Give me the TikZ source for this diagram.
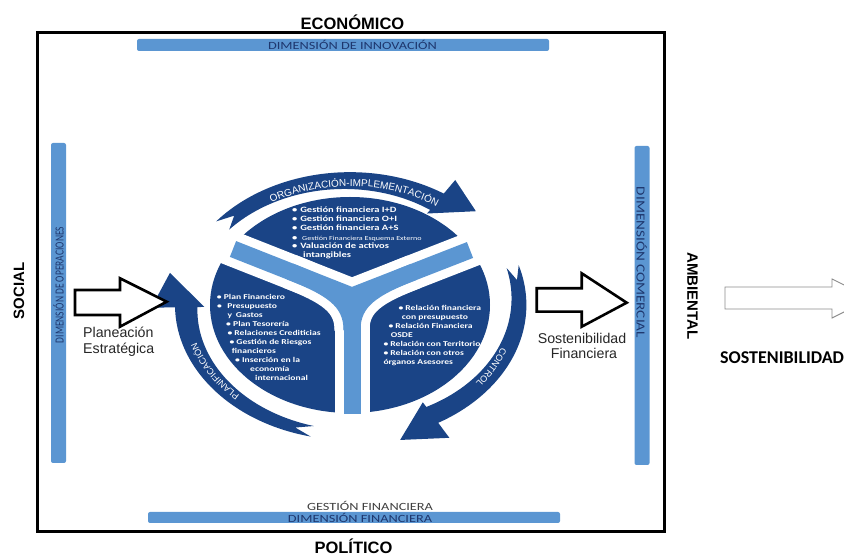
\documentclass[tikz,border=0pt]{standalone}
\usepackage{fontspec}
\usepackage{graphicx}
\setmainfont{Liberation Sans}
\newfontfamily\calfont{Carlito}
\usetikzlibrary{decorations.text,calc}

\definecolor{navyfill}{RGB}{26,68,134}
\definecolor{barblue}{RGB}{91,150,210}
\definecolor{barlabel}{RGB}{30,55,110}
\definecolor{labelgray}{RGB}{64,64,64}

% horizontal / vertical widening of text
\newcommand{\wide}[1]{\scalebox{1.3}[1]{#1}}
\newcommand{\tall}[1]{\scalebox{1}[1.3]{#1}}

% centre and radii of the three-sector disc
\def\cx{350}\def\cy{252}\def\rx{140}\def\ry{108}

% curved band arrow around the disc, running clockwise
% #1 tail angle  #2 head base angle  #3 tip angle
% #4 outer k  #5 inner k at head  #6 inner k at tail
% #7 inner barb k  #8 outer barb k  #9 tip k
\newcommand{\ringarrow}[9]{%
  \fill[navyfill]
    plot[domain=#1:#2,samples=60] ({\cx+#4*\rx*cos(\x)},{\cy+#4*\ry*sin(\x)})
    -- ({\cx+#8*\rx*cos(#2)},{\cy+#8*\ry*sin(#2)})
    -- ({\cx+#9*\rx*cos(#3)},{\cy+#9*\ry*sin(#3)})
    -- ({\cx+#7*\rx*cos(#2)},{\cy+#7*\ry*sin(#2)})
    -- plot[domain=#2:#1,samples=60]
       ({\cx+(#5+(#6-#5)*(\x-(#2))/((#1)-(#2)))*\rx*cos(\x)},
        {\cy+(#5+(#6-#5)*(\x-(#2))/((#1)-(#2)))*\ry*sin(\x)})
    -- ({\cx+(#4+#6)/2*\rx*cos(#1-6)},{\cy+(#4+#6)/2*\ry*sin(#1-6)})
    -- cycle;}

\tikzset{
  x=1pt,y=1pt,
  frame/.style={draw=black,line width=3pt},
  bar/.style={fill=barblue,rounded corners=2pt},
  barlbl/.style={text=barlabel,inner sep=0pt,font=\calfont\fontsize{11}{12}\selectfont},
  sidelbl/.style={text=barlabel,inner sep=0pt,font=\calfont\fontsize{9.5}{10}\selectfont},
  outerlbl/.style={inner sep=0pt,font=\bfseries\fontsize{16.5}{18}\selectfont},
  edgelbl/.style={inner sep=0pt,font=\bfseries\fontsize{15}{16}\selectfont},
  flowlbl/.style={inner sep=0pt,text=black!85,font=\fontsize{14.2}{16}\selectfont},
  blockarrow/.style={draw=black,fill=white,line width=2.6pt,line join=miter},
  petal/.style={inner sep=0pt,anchor=base west,text=white,font=\calfont\bfseries\fontsize{7.4}{8}\selectfont},
  petaltop/.style={petal,font=\calfont\bfseries\fontsize{8.1}{9}\selectfont},
  petalthin/.style={inner sep=0pt,anchor=base west,text=white,font=\calfont\fontsize{6.2}{7}\selectfont},
}

\begin{document}
\begin{tikzpicture}
\useasboundingbox (0,0) rectangle (844,557);
\clip (0,0) rectangle (844,557);

% outer frame and its four labels
\draw[frame] (37.3,25.5) rectangle (664,524.5);
\node[outerlbl] (econ) at (352.5,534.5) {ECONÓMICO};
\node[outerlbl] (poli) at (353.5,11.2) {POLÍTICO};
\node[edgelbl,rotate=90] (social) at (19,266) {SOCIAL};
\node[edgelbl,rotate=-90] (amb) at (692.5,261) {AMBIENTAL};

% dimension bars
\fill[bar] (137,506) rectangle (549,518);
\fill[bar] (148,34) rectangle (560,45);
\fill[bar] (51,94) rectangle (66,414);
\fill[bar] (634.5,92) rectangle (649.5,411);
\node[barlbl] (innov) at (352.5,511.8) {\wide{DIMENSIÓN DE INNOVACIÓN}};
\node[barlbl,text=labelgray] (gestion) at (370,51.5) {\wide{GESTIÓN FINANCIERA}};
\node[barlbl] (finan) at (360,39.2) {\wide{DIMENSIÓN FINANCIERA}};
\node[sidelbl,rotate=90] (oper) at (58.5,272) {\tall{DIMENSIÓN DE OPERACIONES}};
\node[sidelbl,rotate=-90] (comer) at (641.7,294.5) {\scalebox{1.6}[1.3]{DIMENSIÓN COMERCIAL}};

% disc split into three sectors
\fill[navyfill] (\cx,\cy) ellipse [x radius=\rx, y radius=\ry];
\coordinate (J) at (352,261);
\coordinate (LE) at (233,308);
\coordinate (RE) at (470,307);
\coordinate (LEw) at (220,313.1);
\coordinate (REw) at (483,312.1);
\coordinate (SB) at (352,143);
\begin{scope}[line cap=butt,line join=round]
  \draw[white,line width=35pt] (LEw) -- (J) -- (REw);
  \draw[white,line width=35pt] (J) -- (352,128);
  \draw[white,line width=35pt] (290,285.5) .. controls (330,269.7) and (352,257) .. (352,227);
  \draw[white,line width=35pt] (414,285.2) .. controls (374,269.6) and (352,257) .. (352,227);
  \draw[barblue,line width=17pt] (LE) -- (J) -- (RE);
  \draw[barblue,line width=17pt] (J) -- (SB);
  \draw[barblue,line width=17pt] (290,285.5) .. controls (330,269.7) and (352,257) .. (352,227);
  \draw[barblue,line width=17pt] (414,285.2) .. controls (374,269.6) and (352,257) .. (352,227);
\end{scope}

% top sector
\foreach \xx/\yy/\txt [count=\i] in {
  292/344.5/{\makebox[6.2pt][l]{•}Gestión financiera I+D},
  292/335.5/{\makebox[6.2pt][l]{•}Gestión financiera O+I},
  292/326.5/{\makebox[6.2pt][l]{•}Gestión financiera A+S},
  292/308.5/{\makebox[6.2pt][l]{•}Valuación de activos},
  303/299.5/{intangibles}}
  \node[petaltop] (tp\i) at (\xx,\yy) {\wide{\txt}};
\node[petaltop] (tpb) at (292,316.8) {\wide{•}};
\node[petalthin] (tpx) at (302,316.8) {\wide{Gestión Financiera Esquema Externo}};

% left sector
\foreach \xx/\yy/\txt [count=\i] in {
  216.7/257.8/{• Plan Financiero},
  217/248.5/{\makebox[7.9pt][l]{•}Presupuesto},
  227.3/239.5/{y\hspace{3pt}Gastos},
  226/230.5/{• Plan Tesorería},
  227.3/221.5/{• Relaciones Crediticias},
  229.3/212.2/{• Gestión de Riesgos},
  231.7/203.5/{financieros},
  235/194.5/{• Inserción en la},
  250/185.5/{economía},
  255/176.5/{internacional}}
  \node[petal] (lp\i) at (\xx,\yy) {\wide{\txt}};

% right sector
\foreach \xx/\yy/\txt [count=\i] in {
  398.3/246.2/{• Relación financiera},
  401.7/237.2/{con presupuesto},
  388.3/228.2/{• Relación Financiera},
  390.7/219.5/{OSDE},
  383.3/210.2/{• Relación con Territorio},
  383.3/201.2/{• Relación con otros},
  383.3/192.2/{órganos Asesores}}
  \node[petal] (rp\i) at (\xx,\yy) {\wide{\txt}};

% curved cycle arrows
\ringarrow{141}{57}{44}{1.23}{1.05}{1.11}{1.01}{1.38}{1.25}
\ringarrow{17}{-60}{-74}{1.26}{1.09}{1.17}{1.04}{1.42}{1.30}
\ringarrow{-103}{-179}{-193}{1.25}{1.09}{1.15}{1.04}{1.42}{1.32}

\path[decorate,decoration={text along path,text align=center,text color=white,
  text={|\fontsize{10}{12}\selectfont|ORGANIZACIÓN-IMPLEMENTACIÓN}}]
  ($(\cx,\cy)+(150:154 and 118.8)$) arc[start angle=150,end angle=26,x radius=154,y radius=118.8];
\path[decorate,decoration={text along path,text align=center,text color=white,
  text={|\fontsize{9}{11}\selectfont|CONTROL}}]
  ($(\cx,\cy)+(0:161 and 124.2)$) arc[start angle=0,end angle=-56,x radius=161,y radius=124.2];
\path[decorate,decoration={text along path,text align=center,text color=white,
  text={|\fontsize{9}{11}\selectfont|PLANIFICACIÓN}}]
  ($(\cx,\cy)+(-120:161 and 124.2)$) arc[start angle=-120,end angle=-178,x radius=161,y radius=124.2];

% block arrows in and out of the cycle
\draw[blockarrow] (75,267) -- (120,267) -- (120,278.7) -- (166.7,255.3)
  -- (120,230.3) -- (120,242) -- (75,242) -- cycle;
\node[flowlbl,anchor=base west] (plan1) at (83,219) {Planeación};
\node[flowlbl,anchor=base west] (plan2) at (83,203.7) {Estratégica};

\draw[blockarrow] (536.7,268.7) -- (581.7,268.7) -- (581.7,283.7) -- (626.7,254.3)
  -- (581.7,230.3) -- (581.7,245.3) -- (536.7,245.3) -- cycle;
\node[flowlbl,anchor=base] (sost1) at (582,213.7) {Sostenibilidad};
\node[flowlbl,anchor=base] (sost2) at (584,198.7) {Financiera};

% outcome arrow
\draw[draw=black!45,fill=white,line width=0.9pt] (725,270) -- (832,270) -- (832,278)
  -- (871,258.5) -- (832,239) -- (832,248) -- (725,248) -- cycle;
\node[inner sep=0pt,anchor=base west,font=\calfont\bfseries\fontsize{18}{20}\selectfont] (sosten) at (720,193) {SOSTENIBILIDAD};
\end{tikzpicture}
\end{document}
